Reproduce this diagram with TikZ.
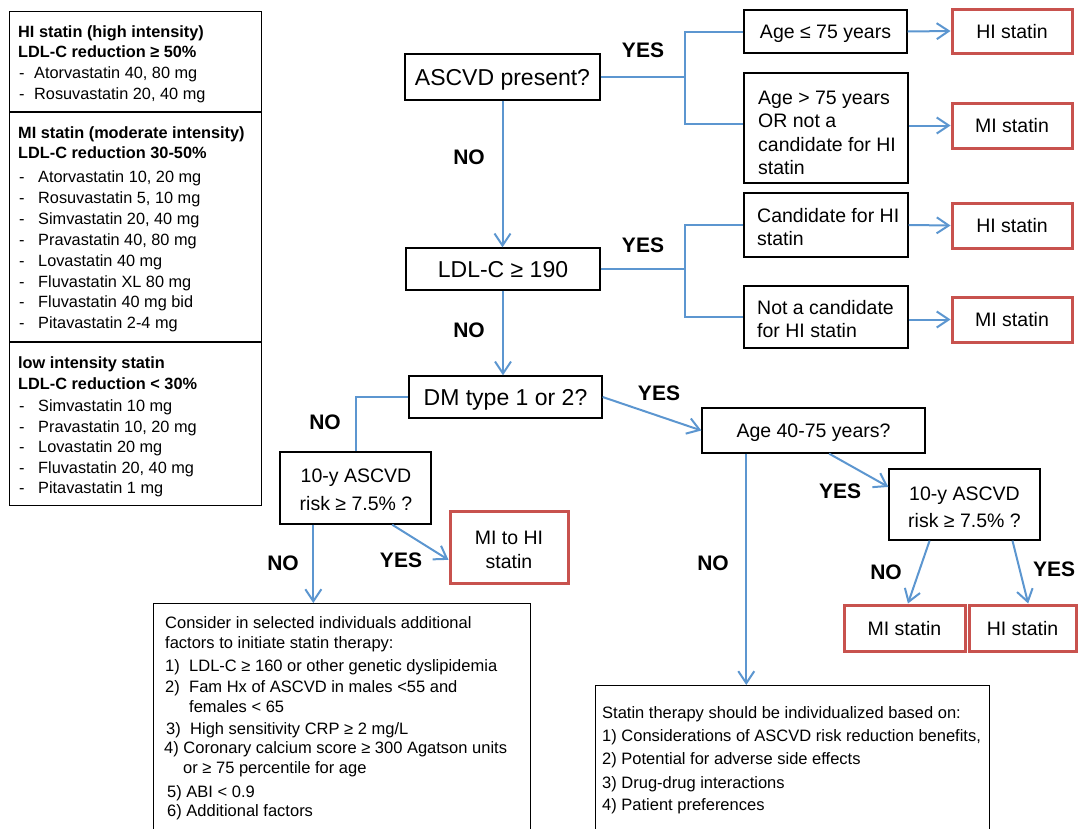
\documentclass[tikz,border=0pt]{standalone}
\usepackage{fontspec}
\setmainfont{Liberation Sans}
\usetikzlibrary{arrows.meta}
\definecolor{redc}{RGB}{200,82,78}
\definecolor{bluec}{RGB}{92,150,208}
\tikzset{
 bx/.style={draw=black, line width=1.3pt, inner sep=0pt},
 rbx/.style={draw=redc, line width=3pt, inner sep=0pt},
 conn/.style={draw=bluec, line width=2pt},
 arr/.style={conn, -{Straight Barb[length=12pt,width=16pt]}},
 yn/.style={font=\fontsize{21}{25}\selectfont\bfseries, inner sep=0pt, text height=15pt, text depth=0pt},
 big/.style={font=\fontsize{23}{27}\selectfont, text height=16.5pt, text depth=0pt},
 mid/.style={font=\fontsize{19.5}{23.5}\selectfont, text height=14pt, text depth=0pt},
 midt/.style={mid, inner sep=0pt},
 sm/.style={font=\fontsize{16.5}{20}\selectfont, inner sep=0pt, text height=11.8pt, text depth=0pt, anchor=west},
 lg/.style={font=\fontsize{16.3}{20}\selectfont, inner sep=0pt, text height=11.7pt, text depth=0pt, anchor=west},
 lgb/.style={lg, font=\fontsize{16.3}{20}\selectfont\bfseries},
}
\begin{document}
\begin{tikzpicture}[x=1pt,y=-1pt]
\useasboundingbox (0,0) rectangle (1078,828);
\clip (0,0) rectangle (1078,828);

% ---------------- legend ----------------
\node[bx, minimum width=252pt, minimum height=494pt, anchor=north west] (legend) at (9,11) {};
\draw[line width=1.3pt] (9,112) -- (261,112);
\draw[line width=1.3pt] (9,342) -- (261,342);
\node[lgb] (l1) at (18,32) {HI statin (high intensity)};
\node[lgb] (l2) at (18,52) {LDL-C reduction ≥ 50\%};
\node[lg] (l3d) at (19,73) {-};
\node[lg] (l3) at (34,73) {Atorvastatin 40, 80 mg};
\node[lg] (l4d) at (19,94) {-};
\node[lg] (l4) at (34,94) {Rosuvastatin 20, 40 mg};

\node[lgb] (m1) at (18,133) {MI statin (moderate intensity)};
\node[lgb] (m2) at (18,153) {LDL-C reduction 30-50\%};
\foreach \y/\t [count=\i] in {177/Atorvastatin 10{,} 20 mg, 198/Rosuvastatin 5{,} 10 mg, 219/Simvastatin 20{,} 40 mg, 240/Pravastatin 40{,} 80 mg, 261/Lovastatin 40 mg, 282/Fluvastatin XL 80 mg, 302/Fluvastatin 40 mg bid, 323/Pitavastatin 2-4 mg}{
  \node[lg] (md\i) at (19,\y) {-};
  \node[lg] (mt\i) at (38,\y) {\t};
}
\node[lgb] (n1) at (18,363) {low intensity statin};
\node[lgb] (n2) at (18,384) {LDL-C reduction < 30\%};
\foreach \y/\t [count=\i] in {406/Simvastatin 10 mg, 427/Pravastatin 10{,} 20 mg, 447/Lovastatin 20 mg, 468/Fluvastatin 20{,} 40 mg, 488/Pitavastatin 1 mg}{
  \node[lg] (nd\i) at (19,\y) {-};
  \node[lg] (nt\i) at (38,\y) {\t};
}

% ---------------- main decision boxes ----------------
\node[bx, big, minimum width=195pt, minimum height=46pt] (ascvd) at (502.5,77) {ASCVD present?};
\node[bx, big, minimum width=194pt, minimum height=42pt] (ldl) at (503,269) {LDL-C ≥ 190};
\node[bx, big, minimum width=193pt, minimum height=42pt] (dm) at (505.5,397) {DM type 1 or 2?};

\node[bx, mid, minimum width=163pt, minimum height=43pt] (age75) at (825.5,31.5) {Age ≤ 75 years};
\node[bx, minimum width=164pt, minimum height=110pt] (age75b) at (826,128) {};
\node[midt, anchor=west] (t1) at (758,97) {Age > 75 years};
\node[midt, anchor=west] (t2) at (758,120) {OR not a};
\node[midt, anchor=west] (t3) at (758,144) {candidate for HI};
\node[midt, anchor=west] (t4) at (758,167) {statin};

\node[bx, minimum width=164pt, minimum height=64pt] (cand) at (826,225) {};
\node[midt, anchor=west] (t5) at (757,215) {Candidate for HI};
\node[midt, anchor=west] (t6) at (757,238) {statin};
\node[bx, minimum width=164pt, minimum height=62pt] (notcand) at (826,317) {};
\node[midt, anchor=west] (t7) at (757,307) {Not a candidate};
\node[midt, anchor=west] (t8) at (757,330) {for HI statin};

\node[rbx, mid, minimum width=120pt, minimum height=44pt] (hi1) at (1012,31) {HI statin};
\node[rbx, mid, minimum width=120pt, minimum height=45pt] (mi1) at (1012,125.5) {MI statin};
\node[rbx, mid, minimum width=120pt, minimum height=45pt] (hi2) at (1012,225.5) {HI statin};
\node[rbx, mid, minimum width=120pt, minimum height=45pt] (mi2) at (1012,319.5) {MI statin};

\node[bx, minimum width=151pt, minimum height=72pt] (risk1) at (355.5,488) {};
\node[midt] (t9) at (356,475) {10-y ASCVD};
\node[midt] (t10) at (356,503) {risk ≥ 7.5\% ?};
\node[rbx, minimum width=118pt, minimum height=72pt] (mitohi) at (509,547) {};
\node[midt] (t11) at (509,537) {MI to HI};
\node[midt] (t12) at (509,561) {statin};

\node[bx, mid, minimum width=223pt, minimum height=45pt] (age4075) at (813.5,430.5) {Age 40-75 years?};
\node[bx, minimum width=151pt, minimum height=71pt] (risk2) at (964.5,504.5) {};
\node[midt] (t13) at (964.5,493) {10-y ASCVD};
\node[midt] (t14) at (964.5,520) {risk ≥ 7.5\% ?};
\node[rbx, mid, minimum width=121pt, minimum height=46pt] (mi3) at (904.5,628) {MI statin};
\node[rbx, mid, minimum width=107pt, minimum height=46pt] (hi3) at (1022.5,628) {HI statin};

% ---------------- bottom text boxes ----------------
\node[bx, minimum width=377pt, minimum height=240pt, anchor=north west] (consider) at (153,603) {};
\node[sm] (c1) at (165,623) {Consider in selected individuals additional};
\node[sm] (c2) at (165,643) {factors to initiate statin therapy:};
\node[sm] (c3n) at (165,666) {1)};
\node[sm] (c3) at (189,666) {LDL-C ≥ 160 or other genetic dyslipidemia};
\node[sm] (c4n) at (165,687) {2)};
\node[sm] (c4) at (189,687) {Fam Hx of ASCVD in males <55 and};
\node[sm] (c5) at (189,707) {females < 65};
\node[sm] (c6n) at (166,729) {3)};
\node[sm] (c6) at (190,729) {High sensitivity CRP ≥ 2 mg/L};
\node[sm] (c7) at (164,748) {4) Coronary calcium score ≥ 300 Agatson units};
\node[sm] (c8) at (183,768) {or ≥ 75 percentile for age};
\node[sm] (c9) at (167,791.5) {5) ABI < 0.9};
\node[sm] (c10) at (167,810.5) {6) Additional factors};

\node[bx, minimum width=394pt, minimum height=200pt, anchor=north west] (indiv) at (595,685) {};
\node[sm] (d1) at (602,713) {Statin therapy should be individualized based on:};
\node[sm] (d2) at (602,736) {1) Considerations of ASCVD risk reduction benefits,};
\node[sm] (d3) at (602,759) {2) Potential for adverse side effects};
\node[sm] (d4) at (602,782.5) {3) Drug-drug interactions};
\node[sm] (d5) at (602,805) {4) Patient preferences};

% ---------------- connectors ----------------
\coordinate (j1) at (685,77);
\coordinate (j1b) at (685,124);
\draw[conn] (ascvd.east) -- (j1);
\draw[conn] (age75.west) -| (j1b) -- (age75b.west |- j1b);
\draw[arr] (age75.east) -- (hi1.west);
\draw[arr] (age75b.east |- mi1.west) -- (mi1.west);

\draw[arr] (ascvd.south) -- (ascvd.south |- ldl.north);
\coordinate (j2) at (685,269);
\coordinate (j2b) at (685,317);
\draw[conn] (ldl.east) -- (j2);
\draw[conn] (cand.west) -| (j2b) -- (notcand.west);
\draw[arr] (cand.east) -- (hi2.west);
\draw[arr] (notcand.east |- mi2.west) -- (mi2.west);

\draw[arr] (ldl.south) -- (ldl.south |- dm.north);
\draw[conn] (dm.west) -| (risk1.north);
\draw[arr] (dm.east) -- (age4075.west);

\draw[arr] (risk1.221.6) -- (risk1.221.6 |- consider.north);
\draw[arr] (risk1.-45) -- (mitohi.192);

\draw[arr] (age4075.199.8) -- (age4075.199.8 |- indiv.north);
\draw[arr] (age4075.304.6) -- (risk2.167.7);
\draw[arr] (risk2.226.7) -- (mi3.82);
\draw[arr] (risk2.323.2) -- (hi3.77);

% ---------------- labels ----------------
\node[yn] (y1) at (643,50) {YES};
\node[yn] (n1l) at (469,157) {NO};
\node[yn] (y2) at (643,245) {YES};
\node[yn] (n2l) at (469,330) {NO};
\node[yn] (y3) at (659,393) {YES};
\node[yn] (n3l) at (325,422) {NO};
\node[yn] (n4l) at (283,563) {NO};
\node[yn] (y4) at (401,560) {YES};
\node[yn] (n5l) at (713,563) {NO};
\node[yn] (y5) at (840,491) {YES};
\node[yn] (n6l) at (886,572) {NO};
\node[yn] (y6) at (1054,569) {YES};
\end{tikzpicture}
\end{document}
